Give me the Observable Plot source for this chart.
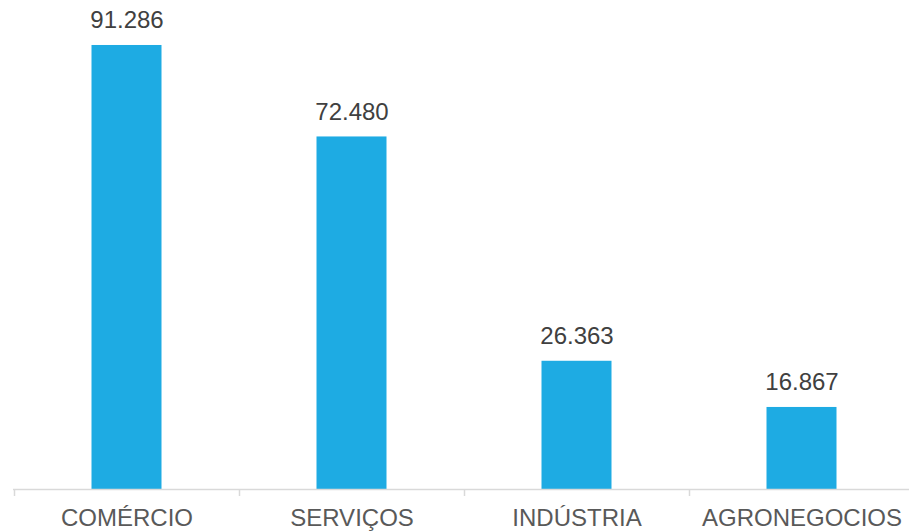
<!DOCTYPE html>
<html><head><meta charset="utf-8">
<script src="https://cdn.jsdelivr.net/npm/d3@7"></script>
<script src="https://cdn.jsdelivr.net/npm/@observablehq/plot@0.6"></script>
<style>
html,body{margin:0;padding:0;background:#fff;overflow:hidden;}
#chart{width:909px;height:531px;overflow:hidden;}
#chart svg{max-width:none !important;}
</style>
</head><body><div id="chart"></div>
<script>
const categories = ["COMÉRCIO", "SERVIÇOS", "INDÚSTRIA", "AGRONEGOCIOS"];
const values = [91286, 72480, 26363, 16867];
const labels = ["91.286", "72.480", "26.363", "16.867"];

const data = categories.map((c, i) => ({cat: c, value: values[i], label: labels[i]}));

const plot = Plot.plot({
  width: 914,
  height: 531,
  marginLeft: 13,
  marginRight: 0,
  marginTop: 2.6,
  marginBottom: 42,
  style: {fontFamily: "Liberation Sans, Arial, sans-serif", background: "#fff", maxWidth: "none"},
  x: {domain: categories, padding: 0, axis: null},
  y: {domain: [0, 100000], axis: null},
  marks: [
    Plot.barY(data, {x: "cat", y: "value", fill: "#1EABE3", insetLeft: 77.5, insetRight: 77.5}),
    Plot.ruleY([0], {stroke: "#d9d9d9", strokeWidth: 1.5}),
    Plot.text(data, {x: "cat", y: "value", text: "label", dy: -25, fontSize: 24, fill: "#404040"}),
    Plot.text(data, {x: "cat", y: 0, text: "cat", dy: 29, fontSize: 24, fill: "#595959"})
  ]
});

// band-boundary tick marks using the plot's own x scale
const xs = plot.scale("x");
const ys = plot.scale("y");
const y0 = ys.apply(0);
const svg = d3.select(plot);
const bounds = categories.map(c => xs.apply(c)).concat([xs.apply(categories[categories.length-1]) + xs.bandwidth]);
svg.append("g").selectAll("line").data(bounds).join("line")
  .attr("x1", d => d + 0.5).attr("x2", d => d + 0.5)
  .attr("y1", y0).attr("y2", y0 + 7)
  .attr("stroke", "#d9d9d9").attr("stroke-width", 1.5);

document.getElementById("chart").appendChild(plot);
</script>
</body></html>
